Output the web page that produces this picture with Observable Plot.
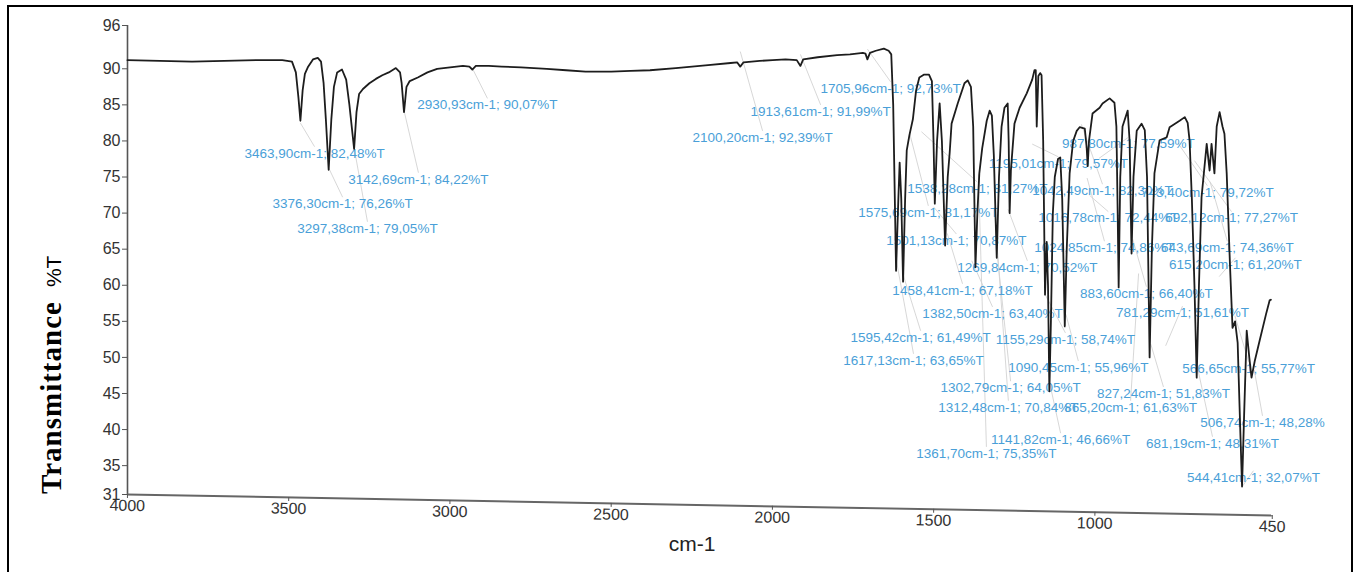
<!DOCTYPE html>
<html>
<head>
<meta charset="utf-8">
<script src="https://cdn.jsdelivr.net/npm/d3@7"></script>
<script src="https://cdn.jsdelivr.net/npm/@observablehq/plot@0.6"></script>
<style>
  html, body { margin: 0; padding: 0; background: #fff; overflow: hidden; }
  #wrap { position: relative; width: 1361px; height: 572px; }
  #frame { position: absolute; left: 7px; top: 5px; width: 1346px; height: 600px; border: 2px solid #000; box-sizing: border-box; pointer-events: none; }
  #chart { position: absolute; left: 0; top: 0; }
</style>
</head>
<body>
<div id="wrap"><div id="chart"></div><div id="frame"></div></div>
<script>
// ---- Spectrum (wavenumber cm-1, transmittance %T) ----
const wavenumbers = [
  4000, 3900, 3800, 3700, 3600, 3520, 3490, 3478, 3470, 3463.9, 3457, 3450, 3440, 3425, 3410, 3400,
  3392, 3385, 3376.3, 3368, 3360, 3350, 3335, 3322, 3312, 3297.4, 3290, 3282, 3270, 3250, 3230, 3210,
  3190, 3168, 3155, 3150, 3142.7, 3135, 3125, 3100, 3070, 3040, 3000, 2960, 2940, 2930.9, 2920, 2880,
  2840, 2780, 2700, 2640, 2580, 2500, 2440, 2380, 2300, 2200, 2130, 2110, 2100.2, 2090, 2040, 2000,
  1960, 1925, 1913.6, 1905, 1860, 1800, 1760, 1720, 1712, 1705.96, 1698, 1680, 1655, 1640, 1632, 1626,
  1617.1, 1610, 1606, 1601, 1595.4, 1589, 1584, 1575.7, 1565, 1555, 1545, 1530, 1515, 1506, 1501, 1497,
  1490, 1482, 1475, 1465, 1457, 1451, 1445, 1426, 1405, 1395, 1385, 1378, 1371, 1365, 1359, 1350,
  1336, 1327, 1320, 1314, 1305, 1298, 1290, 1281, 1271, 1268, 1265, 1261, 1250, 1234, 1212, 1195,
  1188, 1184, 1181, 1176, 1170, 1166, 1161, 1155.3, 1150, 1146, 1141.8, 1137, 1131, 1125, 1115, 1108,
  1102, 1094, 1088, 1079, 1068, 1057, 1048, 1032, 1026, 1023, 1019, 1008, 986, 977, 955, 940,
  934, 930, 927, 922, 915, 899, 893, 887, 881, 871, 856, 846, 839, 831, 824, 816,
  800, 778, 769, 738, 722, 713, 707, 700, 692, 685, 678, 670, 654, 645, 639, 630,
  623, 614, 605, 599, 592, 582, 574, 566, 558, 550, 544.4, 538, 530, 522, 515, 505,
  490, 470, 459, 455
];
const transmittance = [
  91.2, 91.1, 91.0, 91.1, 91.2, 91.2, 91.0, 89.5, 86.0, 82.8, 87.0, 89.3, 90.3, 91.3, 91.5, 91.0,
  88.0, 83.0, 76.0, 83.0, 87.5, 89.5, 89.9, 88.5, 85.0, 78.9, 84.0, 86.5, 87.2, 88.0, 88.6, 89.1,
  89.5, 90.1, 89.5, 88.0, 84.0, 87.5, 88.3, 88.8, 89.5, 90.0, 90.2, 90.4, 90.3, 89.9, 90.4, 90.4,
  90.3, 90.2, 90.0, 89.8, 89.6, 89.6, 89.7, 89.8, 90.1, 90.5, 90.8, 90.9, 90.3, 90.9, 91.1, 91.2,
  91.3, 91.2, 90.4, 91.3, 91.6, 91.9, 92.0, 92.2, 92.1, 91.3, 92.2, 92.5, 92.8, 92.5, 92.0, 85.0,
  62.0, 72.0, 77.0, 72.0, 60.5, 72.0, 78.7, 80.8, 83.0, 87.0, 88.8, 89.2, 89.2, 88.3, 80.0, 71.3,
  80.0, 85.2, 80.0, 65.5, 75.0, 78.3, 82.4, 85.2, 88.0, 88.4, 87.5, 82.0, 62.5, 70.0, 75.5, 79.0,
  82.8, 84.2, 83.5, 78.0, 63.8, 75.0, 82.0, 84.6, 85.2, 80.0, 70.0, 76.0, 82.4, 84.6, 86.6, 88.5,
  89.8, 89.8, 82.0, 89.0, 89.4, 89.1, 80.0, 58.7, 66.0, 60.0, 45.3, 55.0, 70.0, 75.0, 77.5, 77.7,
  72.0, 54.3, 65.0, 75.5, 80.0, 81.4, 81.9, 81.7, 79.0, 76.5, 80.0, 83.8, 84.6, 85.2, 85.9, 85.3,
  82.0, 70.0, 59.7, 75.0, 82.0, 84.2, 80.0, 64.4, 75.0, 81.4, 82.4, 81.5, 75.0, 50.0, 65.0, 75.5,
  80.1, 80.5, 81.9, 82.8, 83.3, 82.5, 80.0, 72.0, 60.0, 47.2, 60.0, 72.2, 79.6, 75.9, 79.6, 75.5,
  82.0, 84.0, 82.0, 81.0, 75.5, 63.0, 54.1, 55.0, 52.0, 40.0, 32.1, 42.0, 53.7, 50.0, 47.2, 49.5,
  52.3, 56.0, 57.9, 58.0
];

// ---- Peak annotations ----
const peakLabels = [
  "3463,90cm-1; 82,48%T", "3376,30cm-1; 76,26%T", "3297,38cm-1; 79,05%T", "3142,69cm-1; 84,22%T",
  "2930,93cm-1; 90,07%T", "2100,20cm-1; 92,39%T", "1913,61cm-1; 91,99%T", "1705,96cm-1; 92,73%T",
  "1617,13cm-1; 63,65%T", "1595,42cm-1; 61,49%T", "1458,41cm-1; 67,18%T", "1382,50cm-1; 63,40%T",
  "1155,29cm-1; 58,74%T", "1090,45cm-1; 55,96%T", "1302,79cm-1; 64,05%T", "1312,48cm-1; 70,84%T",
  "1141,82cm-1; 46,66%T", "1361,70cm-1; 75,35%T", "1269,84cm-1; 70,52%T", "1575,69cm-1; 81,17%T",
  "1501,13cm-1; 70,87%T", "1538,28cm-1; 81,27%T", "1195,01cm-1; 79,57%T", "987,80cm-1; 77,59%T",
  "1042,49cm-1; 82,30%T", "743,40cm-1; 79,72%T", "1016,78cm-1; 72,44%T", "692,12cm-1; 77,27%T",
  "1024,85cm-1; 74,86%T", "643,69cm-1; 74,36%T", "615,20cm-1; 61,20%T", "883,60cm-1; 66,40%T",
  "781,29cm-1; 51,61%T", "566,65cm-1; 55,77%T", "827,24cm-1; 51,83%T", "865,20cm-1; 61,63%T",
  "506,74cm-1; 48,28%", "681,19cm-1; 48,31%T", "544,41cm-1; 32,07%T"
];
const peakWavenumber = [
  3463.90, 3376.30, 3297.38, 3142.69, 2930.93, 2100.20, 1913.61, 1705.96,
  1617.13, 1595.42, 1458.41, 1382.50, 1155.29, 1090.45, 1302.79, 1312.48,
  1141.82, 1361.70, 1269.84, 1575.69, 1501.13, 1538.28, 1195.01, 987.80,
  1042.49, 743.40, 1016.78, 692.12, 1024.85, 643.69, 615.20, 883.60,
  781.29, 566.65, 827.24, 865.20, 506.74, 681.19, 544.41
];
const peakTransmittance = [
  82.48, 76.26, 79.05, 84.22, 90.07, 92.39, 91.99, 92.73,
  63.65, 61.49, 67.18, 63.40, 58.74, 55.96, 64.05, 70.84,
  46.66, 75.35, 70.52, 81.17, 70.87, 81.27, 79.57, 77.59,
  82.30, 79.72, 72.44, 77.27, 74.86, 74.36, 61.20, 66.40,
  51.61, 55.77, 51.83, 61.63, 48.28, 48.31, 32.07
];
// label anchor positions, in data units (cm-1, %T)
const labelWavenumber = [
  3420, 3333, 3256, 3098, 2884, 2031, 1851, 1634,
  1563, 1541, 1411, 1318, 1092, 1052, 1262, 1269,
  1107, 1337, 1210, 1517, 1430, 1365, 1114, 897,
  977, 652, 959, 577, 971, 590, 565, 841,
  729, 524, 788, 890, 481, 636, 509
];
const labelTransmittance = [
  78.3, 71.3, 67.9, 74.7, 85.0, 80.5, 84.1, 87.3,
  49.6, 52.8, 59.3, 56.1, 52.5, 48.6, 45.8, 43.1,
  38.6, 36.7, 62.5, 70.1, 66.2, 73.4, 76.9, 79.6,
  73.1, 72.9, 69.3, 69.3, 65.2, 65.2, 62.9, 58.9,
  56.2, 48.5, 45.0, 43.1, 41.0, 38.1, 33.4
];

// ---- Axes ----
const xTicks = [4000, 3500, 3000, 2500, 2000, 1500, 1000, 450];
const yTicks = [31, 35, 40, 45, 50, 55, 60, 65, 70, 75, 80, 85, 90, 96];
const xTitle = "cm-1";
const yTitleMain = "Transmittance";
const yTitleUnit = "%T";

const spectrum = wavenumbers.map((v, i) => ({v, t: transmittance[i]}));
const peaks = peakLabels.map((s, i) => ({
  label: s, pv: peakWavenumber[i], pt: peakTransmittance[i],
  lx: labelWavenumber[i], ly: labelTransmittance[i]
}));

const chart = Plot.plot({
  width: 1361,
  height: 572,
  marginLeft: 127,
  marginRight: 89,
  marginTop: 25,
  marginBottom: 78,
  style: {fontFamily: "'Liberation Sans', Arial, sans-serif", fontSize: "16px", color: "#333", background: "transparent", overflow: "visible"},
  x: {domain: [4000, 450], label: null},
  y: {domain: [31, 96], label: null},
  marks: [
    Plot.link(peaks, {x1: "pv", y1: "pt", x2: "lx", y2: d => d.ly + 0.9, stroke: "#d2d2d2", strokeWidth: 0.9}),
    Plot.text(peaks, {x: "lx", y: "ly", text: "label", fill: "#4a9fd8", fontSize: 13.5, fontFamily: "'Liberation Sans', Arial, sans-serif"}),
    Plot.ruleX([4000], {y1: 31, y2: 96, stroke: "#555", strokeWidth: 1.6}),
    Plot.ruleY([31], {stroke: "#666", strokeWidth: 2}),
    Plot.axisX({ticks: xTicks, tickFormat: d => String(d), tickSize: 4, tickPadding: 1, fontSize: 16, stroke: "#555", fill: "#333", label: null}),
    Plot.axisY({ticks: yTicks, tickSize: 5, tickPadding: 2, fontSize: 16, stroke: "#555", fill: "#333", label: null}),
    Plot.line(spectrum, {x: "v", y: "t", stroke: "#1d1d1d", strokeWidth: 1.8, curve: "linear"}),
    Plot.text([xTitle], {frameAnchor: "bottom", dy: 56, dx: -8, fontSize: 21, fill: "#222"})
  ]
});

// the bottom axis of the original is slightly skewed
const skew = "rotate(1.05,127,494) ";
const root = d3.select(chart);
root.selectAll('g[aria-label="x-axis tick"], g[aria-label="x-axis tick label"]')
  .each(function() {
    this.setAttribute("transform", skew + (this.getAttribute("transform") || ""));
  });
root.selectAll('g[aria-label="rule"]').each(function() {
  const ln = this.querySelector("line");
  if (ln && ln.getAttribute("y1") === ln.getAttribute("y2")) {
    this.setAttribute("transform", skew + (this.getAttribute("transform") || ""));
  }
});

const yl = root.append("text")
  .attr("transform", "translate(61,494) rotate(-90)")
  .attr("text-anchor", "start")
  .attr("fill", "#000");
yl.append("tspan").text(yTitleMain)
  .attr("font-family", "'Liberation Serif', 'Times New Roman', serif")
  .attr("font-weight", "bold").attr("font-size", 29).attr("letter-spacing", 1);
yl.append("tspan").text(yTitleUnit).attr("dx", 14)
  .attr("font-family", "'Liberation Sans', Arial, sans-serif").attr("font-size", 21);

document.getElementById("chart").appendChild(chart);
</script>
</body>
</html>
